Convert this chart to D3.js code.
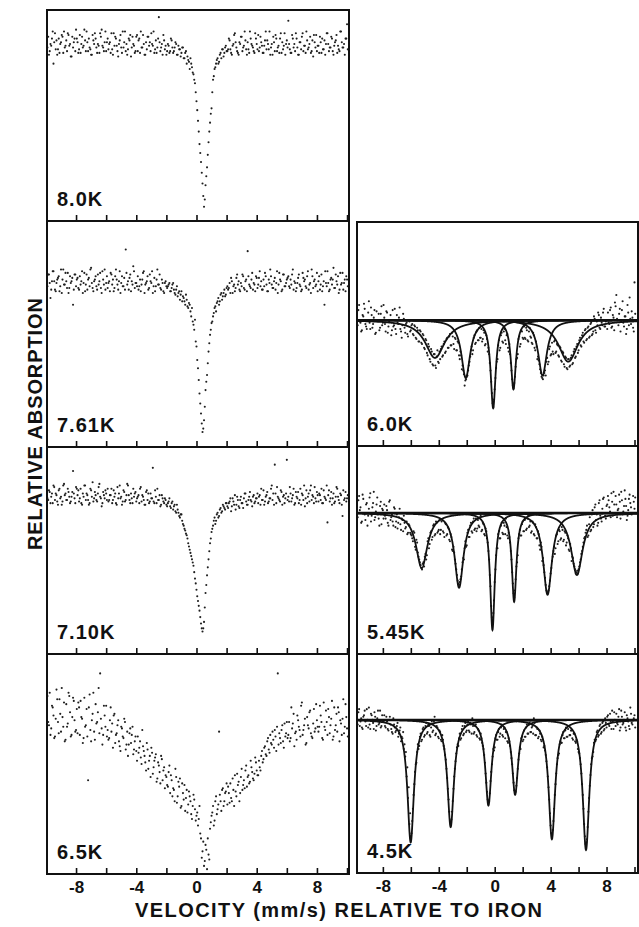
<!DOCTYPE html>
<html>
<head>
<meta charset="utf-8">
<script src="https://cdn.jsdelivr.net/npm/d3@7"></script>
<style>
  body { margin: 0; background: #fff; }
  text { font-family: "Liberation Sans", Arial, Helvetica, sans-serif; font-weight: bold; }
</style>
</head>
<body>
<div id="chart"></div>
<script>
const w = 639
const h = 927

// temperature of each spectrum (left column top to bottom, then right column)
const temps = ['8.0K', '7.61K', '7.10K', '6.5K', '6.0K', '5.45K', '4.5K']

// velocity channels of the two folded halves, mm/s
const velocityA = d3.range(200).map(i => Math.round((-9.9 + i * 0.1) * 100) / 100)
const velocityB = d3.range(200).map(i => Math.round((-9.85 + i * 0.1) * 100) / 100)

// relative absorption per channel (0 = baseline, larger = more absorption)
const abs80 = [
  3, 7, 1, -2, 12, -5, -1, 4, 6, 0, -3, -6, 2, 5, -4, 1, 8, 3, -2, -7,
  0, 4, 6, -3, 2, -1, -6, 5, 3, 7, -4, 1, -2, 6, 2, -5, -7, 3, 0, 5,
  -2, 1, 6, 4, -5, -3, 2, 8, -1, 3, -6, 0, 5, 7, -2, -4, 3, 1, 6, -3,
  5, -2, -6, 3, 1, 7, 4, -3, 0, -5, 2, 6, -1, 3, -14, 5, 1, -4, 4, 7,
  1, 6, -2, 3, 5, 0, 7, 2, 4, 6, 3, 9, 5, 8, 11, 9, 14, 18, 23, 33,
  44, 57, 67, 79, 92, 80, 70, 56, 45, 37, 21, 15, 12, 9, 11, 6, 4, 8, 3, 5,
  4, -1, 6, 2, -4, 0, 5, 7, 1, -3, 3, -6, 4, 0, 6, -2, 2, 5, -5, 1,
  -4, 3, 0, 6, 2, -6, -1, 4, 7, 1, -3, 5, -2, 3, 6, -5, 0, 2, 7, -1,
  -12, 4, 6, -2, 1, -5, 3, 7, 0, -3, 5, 2, -6, 4, 1, 6, -1, -4, 3, 5,
  2, -3, 6, 4, -1, 1, -5, 5, 3, -2, 7, 0, -4, 2, 5, -6, 3, 1, -2, -10
]
const abs80b = [
  -3, 5, 2, -6, 0, 4, 7, -2, 1, -4, 6, 3, -1, -5, 2, 8, -3, 0, 5, -2,
  6, -4, 1, 3, -7, 5, 0, -2, 4, 7, -1, -5, 3, 1, 6, -3, 2, 5, -6, 0,
  4, 0, -5, 7, 2, -2, 5, 1, -4, 6, 3, -6, 1, 4, -1, 8, -3, 2, 5, -4,
  -1, 6, 3, -4, 7, 0, -3, 2, 5, 1, -6, 4, 6, -2, 0, 3, 7, -1, 2, 5,
  2, 5, -1, 6, 3, 1, 7, 4, 8, 3, 9, 6, 12, 10, 15, 12, 17, 21, 28, 38,
  50, 62, 73, 86, 88, 75, 63, 50, 40, 28, 19, 14, 10, 12, 7, 9, 4, 6, 2, 5,
  -2, 4, 7, 1, -5, 3, 6, 0, -3, 5, 2, -1, 7, 4, -6, 1, 3, 6, -2, 4,
  5, -3, 2, 6, -1, 4, 1, -6, 3, 7, 0, -4, 5, 2, -2, 6, 4, -5, 1, 3,
  1, 6, -4, 3, 5, -2, 7, 0, 4, -5, 2, 6, -1, 3, -3, 5, 8, 0, -4, 2,
  6, 0, -2, 4, 7, -5, 1, 3, -3, 5, 2, -1, 6, 4, -6, 0, 3, 7, -2, 4
]
const abs761 = [
  4, -3, 11, 1, -5, 6, 2, -1, 7, -6, 0, 3, -4, 5, 8, -2, 1, 15, -3, 4,
  -1, 6, 3, -5, 2, 7, -3, 0, 4, -7, 5, 1, -2, 6, 3, -4, 8, 0, -6, 2,
  5, 1, -4, 3, 7, -2, 0, 6, -5, 2, 4, -1, -18, 3, 6, -3, 1, -8, 5, 2,
  -2, 4, 7, 0, -5, 3, 1, 6, -3, 2, 8, -1, 4, -6, 3, 5, 0, 7, 2, 4,
  4, 2, 7, 3, 6, 9, 4, 8, 12, 7, 10, 13, 9, 16, 14, 19, 17, 27, 24, 40,
  53, 68, 80, 91, 84, 66, 57, 43, 33, 26, 22, 17, 19, 13, 15, 9, 12, 8, 10, 5,
  6, 2, -1, 8, 3, 5, -3, 1, 7, 4, -2, 6, 0, -17, 3, 5, -4, 2, 7, -1,
  3, -5, 1, 6, 4, -2, 7, 0, -6, 3, 5, -1, 2, 8, -4, 1, 6, -3, 4, 0,
  -2, 5, 3, -6, 1, 7, 2, -3, 4, 6, -1, 0, 5, -5, 3, 8, -2, 1, 4, -4,
  1, 6, -3, 4, 15, 2, -5, 7, 0, 3, -7, 5, 1, -2, 6, 3, -4, 2, 7, 0
]
const abs761b = [
  -3, 2, 6, -5, 1, 7, 0, -2, 4, 8, -6, 3, 1, -4, 5, 2, -1, 6, -3, 0,
  5, -2, 1, 8, -4, 3, 6, -1, -6, 2, 7, 0, 4, -3, 1, 5, -5, 3, 6, -2,
  2, 7, -3, 0, 5, -6, 3, 1, 8, -2, 4, 6, -4, 1, -1, 7, 3, -5, 2, 4,
  6, 0, 3, -4, 8, 2, -2, 5, 1, -5, 4, 7, 0, 3, -3, 6, 2, 8, 1, 5,
  3, 7, 5, 2, 8, 6, 10, 7, 9, 13, 11, 15, 12, 17, 15, 22, 25, 30, 37, 48,
  60, 74, 86, 89, 76, 61, 50, 38, 30, 25, 20, 16, 14, 11, 13, 8, 10, 6, 9, 4,
  5, 8, 1, 4, 7, -1, 3, 6, 2, -3, 5, 1, 7, -2, 4, 0, 6, 3, -2, 5,
  -1, 4, 6, 0, -4, 3, 7, 2, -2, 5, 1, 6, -5, 3, 0, 7, -3, 4, 2, -1,
  4, 0, -3, 6, 2, 5, -1, 3, 7, -4, 1, 4, -2, 6, 2, -6, 5, 0, 3, 7,
  -2, 3, 7, 1, -5, 4, 2, 6, -1, 0, 5, -3, 3, 8, -4, 2, 6, 0, -2, 4
]
const abs710 = [
  3, -2, 6, 0, -5, 4, 1, 7, -3, 2, 5, -6, 0, 4, -1, 6, 2, -14, 3, -4,
  1, 5, -3, 7, 2, -5, 0, 4, 6, -2, -7, 3, 1, 5, -4, 2, 8, -1, 3, 0,
  -3, 4, 1, 6, -2, 0, 7, 3, -5, 2, 5, -1, 4, -6, 1, 6, 3, -3, 0, 5,
  2, 6, -4, 1, 4, 7, -2, 0, 5, 3, -16, 6, 2, -3, 4, 8, 1, 5, 3, 7,
  6, 3, 9, 5, 8, 11, 7, 12, 15, 13, 19, 22, 25, 28, 33, 37, 41, 45, 53, 60,
  67, 73, 81, 86, 80, 62, 51, 41, 31, 24, 20, 15, 17, 12, 14, 9, 11, 8, 10, 6,
  9, 5, 11, 3, 7, 10, 2, 8, 4, 6, 9, 0, 5, 7, 2, 4, 8, 1, 5, 3,
  6, 1, -3, 4, 7, 2, -1, 5, 3, -5, 0, -18, 6, 2, 4, -2, 7, 1, 3, -21,
  2, -4, 5, 1, 7, -1, 3, 6, -3, 0, 4, 8, -2, 2, 5, -5, 1, 6, 3, -1,
  5, 1, -3, 6, 2, 4, 18, -2, 3, 7, 0, 5, -4, 2, 6, 1, 14, 4, -1, 3
]
const abs710b = [
  4, -1, 2, 6, -4, 0, 5, -2, 3, 7, -5, 1, 4, -3, 2, 5, -1, 0, 6, -3,
  -2, 3, 6, 0, -5, 4, 1, 7, -3, 2, 5, -1, 4, 0, -6, 3, 6, 1, -2, 4,
  5, 1, -3, 4, 2, 6, -4, 0, 3, 7, -2, 5, 1, -5, 4, 0, 6, 2, -1, 3,
  1, -3, 5, 2, 7, -1, 4, 6, 0, 3, 5, -2, 6, 4, 1, 7, 3, 6, 4, 8,
  5, 8, 6, 10, 7, 12, 10, 14, 13, 17, 20, 23, 26, 31, 35, 39, 43, 49, 56, 64,
  70, 77, 84, 84, 71, 57, 46, 36, 28, 22, 17, 19, 13, 15, 10, 12, 7, 9, 6, 8,
  6, 3, 8, 5, 1, 7, 4, 9, 2, 6, 3, 0, 7, 4, -1, 5, 2, 6, 3, 0,
  2, 7, 4, -2, 5, 1, 6, 3, -3, 4, 7, 0, -4, 3, 5, -1, 2, 6, 0, 4,
  5, 0, 3, -3, 6, 2, -1, 4, 7, 1, -5, 3, 6, 0, -2, 4, 2, -4, 5, 1,
  0, 4, 6, -2, 3, -5, 1, 5, -1, 3, 6, 2, -3, 4, 0, 7, -2, 3, 5, 1
]
const abs65 = [
  -10, 8, 14, -4, 2, 15, -14, 6, -8, 12, 3, -6, 17, 9, -12, 0, 14, -9, 5, 11,
  13, -3, -7, 4, 16, 9, -2, 42, -11, 18, 1, 12, -5, 6, -15, -24, 10, 14, 2, -4,
  11, 16, -3, 7, 2, 19, 13, 5, 21, 9, 15, 4, 23, 12, 20, 10, 14, 26, 18, 24,
  15, 22, 28, 11, 24, 31, 19, 35, 27, 22, 38, 30, 26, 41, 33, 44, 29, 36, 47, 40,
  46, 33, 39, 52, 48, 35, 56, 43, 41, 58, 50, 45, 53, 62, 49, 55, 66, 51, 60, 64,
  70, 58, 78, 86, 95, 82, 97, 88, 72, 64, 58, 67, 52, 60, 12, 55, 48, 58, 50, 44,
  46, 56, 53, 41, 58, 49, 38, 43, 50, 35, 45, 47, 33, 40, 44, 30, 37, 42, 28, 36,
  39, 34, 27, 31, 22, 26, 18, 23, 14, 20, 17, 11, 24, -24, 13, 19, 8, 22, 15, 6,
  14, 18, -3, 7, 21, 12, 2, 9, 15, -6, 11, 4, 19, 8, 0, 13, 16, -2, 10, 5,
  12, -4, 6, 17, 9, -1, 14, 3, 8, -7, 15, 11, 1, -3, 18, 7, 4, 13, -5, 10
]
const abs65b = [
  6, -12, 10, -3, 16, 4, -8, 13, 1, -15, 9, 18, -5, 7, -10, 15, 3, -7, 12, -2,
  -6, 14, 3, 19, -9, 8, 15, -3, 11, 5, -12, 17, 7, 0, 13, 4, 20, -4, 9, 15,
  17, 5, 12, 22, 1, 14, 8, 18, 24, 10, 16, 6, 20, 27, 13, 19, 9, 23, 15, 30,
  25, 18, 32, 21, 27, 36, 23, 30, 40, 25, 34, 28, 43, 31, 37, 27, 42, 34, 39, 45,
  37, 50, 42, 47, 55, 40, 52, 46, 59, 44, 54, 61, 48, 57, 52, 63, 58, 54, 67, 62,
  66, 75, 90, 80, 92, 85, 78, 91, 68, 62, 70, 55, 63, 57, 51, 61, 47, 55, 49, 57,
  50, 44, 55, 48, 39, 52, 45, 55, 40, 48, 42, 36, 46, 39, 43, 34, 41, 38, 31, 39,
  30, 36, 24, 29, 21, 27, 16, 25, 19, 12, 22, 15, 9, 20, 16, 11, 18, 7, 13, 16,
  6, 16, 10, 1, 13, 17, 5, 11, -4, 14, 8, 20, 3, 10, -1, 15, 7, 12, -5, 9,
  9, 2, 16, -6, 11, 6, -2, 13, 4, 17, -3, 8, 12, 0, 5, 14, -8, 9, 3, 15
]
const abs60 = [
  -6, 4, -12, 2, 8, -3, -9, 5, 0, -15, 7, -4, 3, -8, 10, 1, -5, 6, -11, 2,
  -2, 9, -6, 5, 0, 12, -8, 4, 7, -4, 3, -10, 9, 4, -1, 10, 2, 13, 1, 8,
  3, 12, 5, 15, 8, 17, 9, 19, 12, 23, 16, 28, 21, 33, 25, 36, 27, 38, 24, 34,
  31, 21, 28, 17, 25, 14, 22, 11, 20, 13, 23, 15, 24, 18, 31, 28, 36, 43, 48, 45,
  40, 33, 24, 27, 14, 19, 9, 16, 6, 14, 17, 8, 20, 12, 25, 27, 40, 58, 69, 55,
  38, 31, 16, 22, 10, 18, 7, 19, 11, 25, 27, 40, 52, 50, 37, 30, 15, 21, 8, 14,
  5, 15, 8, 17, 6, 14, 19, 12, 24, 21, 29, 35, 42, 46, 44, 40, 33, 35, 23, 28,
  18, 27, 16, 25, 20, 29, 22, 33, 26, 37, 30, 39, 31, 36, 28, 34, 23, 29, 19, 24,
  14, 21, 10, 18, 7, 15, 5, 13, 2, 11, -3, 8, 1, -6, 6, -2, 4, -9, 5, 0,
  -6, 3, -10, 5, -2, -14, -20, 0, -5, 9, -8, 2, -3, 11, -12, 4, -1, -7, 6, -30
]
const abs60b = [
  5, -8, 1, 9, -4, -13, 3, 7, -6, 2, -10, 6, -2, 11, -7, 0, 8, -5, 4, -12,
  3, -7, 10, 1, -4, 8, 5, -9, 11, 2, -2, 7, 14, -5, 6, 3, 11, 0, 9, 4,
  11, 4, 14, 6, 17, 8, 18, 11, 22, 15, 26, 19, 31, 23, 35, 27, 36, 29, 33, 25,
  23, 29, 19, 26, 15, 22, 13, 20, 10, 19, 14, 24, 17, 28, 25, 39, 40, 52, 47, 44,
  36, 29, 21, 24, 12, 18, 8, 16, 14, 7, 15, 10, 19, 15, 22, 34, 49, 66, 63, 46,
  33, 20, 24, 12, 17, 9, 16, 12, 22, 19, 34, 47, 54, 45, 31, 27, 13, 19, 9, 15,
  14, 6, 16, 9, 13, 18, 10, 22, 17, 31, 32, 39, 45, 47, 42, 44, 30, 33, 21, 27,
  25, 17, 26, 19, 28, 21, 32, 25, 35, 29, 38, 31, 37, 30, 35, 25, 30, 21, 26, 16,
  20, 12, 17, 8, 16, 6, 14, 3, 12, 9, -1, 10, 4, -4, 7, 2, -6, 5, 1, 7,
  2, -8, 6, -4, 8, -11, -1, 4, -9, 1, -15, 5, -3, 7, -6, -18, 3, -2, 9, -5
]
const abs545 = [
  -8, 3, -12, -4, 6, -10, 1, -6, 9, -3, -14, 2, -7, 5, -1, -11, 4, -5, 8, -2,
  -6, 4, -2, 9, -9, 3, 6, -4, 10, 1, 7, -3, 12, 5, 2, 11, 6, 14, 9, 15,
  18, 13, 24, 19, 28, 33, 37, 40, 35, 31, 33, 20, 25, 14, 19, 9, 16, 6, 14, 12,
  15, 6, 13, 17, 8, 15, 11, 20, 17, 27, 28, 36, 44, 50, 49, 45, 35, 33, 20, 23,
  12, 17, 7, 14, 4, 11, 13, 5, 10, 2, 12, 8, 16, 13, 21, 33, 52, 74, 71, 49,
  30, 25, 13, 18, 7, 15, 9, 4, 16, 14, 21, 33, 50, 60, 47, 35, 18, 12, 16, 6,
  13, 4, 11, 2, 9, 14, 6, 15, 8, 18, 13, 23, 21, 34, 37, 46, 55, 57, 52, 43,
  34, 27, 29, 16, 22, 12, 19, 10, 20, 13, 23, 16, 26, 22, 34, 32, 38, 43, 41, 40,
  35, 29, 24, 18, 14, 9, 16, 3, 12, -2, 8, -6, 1, 7, -9, 4, -3, -11, 2, -5,
  -12, -4, 3, -8, -15, 0, -6, -2, -13, 4, -9, -1, -16, -5, 2, -10, -7, 1, -12, -3
]
const abs545b = [
  4, -9, -2, 7, -13, 0, 5, -7, 2, -11, 6, -4, -15, 3, -6, 1, 9, -8, -3, 4,
  2, -5, 7, -8, 5, 1, 9, -3, 6, 11, 3, 8, 4, 13, 7, 10, 15, 8, 14, 16,
  20, 14, 26, 21, 31, 35, 39, 36, 38, 29, 30, 18, 22, 13, 17, 8, 15, 7, 13, 5,
  12, 5, 14, 7, 16, 10, 19, 15, 26, 24, 33, 40, 48, 51, 47, 40, 32, 25, 24, 14,
  17, 9, 13, 6, 12, 4, 11, 9, 3, 13, 7, 15, 11, 18, 27, 44, 66, 76, 62, 40,
  25, 15, 18, 9, 14, 7, 15, 10, 18, 17, 27, 42, 57, 55, 38, 30, 15, 16, 8, 13,
  5, 12, 4, 10, 6, 13, 7, 16, 10, 18, 15, 26, 24, 32, 42, 51, 56, 55, 48, 39,
  31, 24, 25, 15, 20, 13, 18, 12, 19, 14, 21, 18, 27, 25, 31, 36, 40, 42, 43, 38,
  33, 27, 21, 17, 12, 17, 8, 13, 1, 10, -4, 5, 9, -7, 2, 6, -10, 0, 4, -6,
  -9, -1, -14, 2, -6, -12, 3, -3, -8, -15, 1, -5, -10, 5, -2, -13, -4, 0, -8, -11
]
const abs45 = [
  -4, 3, -7, 1, 5, -2, -6, 4, 0, -8, 6, -3, 2, -5, 7, -1, 3, -6, 4, 1,
  -3, 5, 1, 7, -2, 6, 9, 3, 8, 4, 11, 7, 14, 12, 19, 24, 37, 51, 68, 76,
  66, 49, 34, 28, 16, 17, 9, 13, 5, 10, 2, 8, 4, 11, 1, 7, -2, 9, 5, 12,
  8, 14, 13, 19, 26, 38, 52, 66, 65, 53, 37, 27, 18, 17, 9, 12, 4, 9, 2, 7,
  1, 8, 3, -1, 9, 4, 10, 6, 12, 9, 15, 19, 28, 41, 52, 53, 40, 29, 19, 18,
  10, 13, 6, 9, 3, 11, 5, 8, 14, 12, 17, 25, 35, 46, 47, 38, 26, 18, 12, 14,
  7, 11, 3, 9, 2, 8, 4, -1, 10, 5, 12, 7, 13, 11, 18, 20, 27, 37, 52, 69,
  75, 66, 49, 35, 25, 22, 14, 15, 8, 12, 5, 11, 4, 10, 7, 13, 9, 15, 14, 21,
  25, 35, 49, 68, 81, 78, 60, 43, 29, 24, 15, 14, 8, 11, 4, 9, 2, 7, -1, 5,
  -3, 4, 1, -6, 6, 0, -4, 3, -7, 5, -2, 2, -5, 7, -1, 4, -8, 2, 0, -3
]
const abs45b = [
  2, -5, 4, -1, 6, -3, 1, -7, 5, 3, -4, 0, 6, -2, 4, -6, 2, 5, -3, 1,
  4, -2, 6, 0, 3, 8, -1, 5, 7, 2, 9, 5, 11, 8, 16, 21, 31, 44, 61, 74,
  58, 42, 29, 21, 19, 11, 14, 6, 11, 4, 9, 3, 10, 5, 8, 1, 10, 4, 11, 7,
  13, 10, 17, 23, 32, 45, 60, 68, 60, 45, 32, 22, 16, 12, 13, 6, 10, 4, 8, 3,
  7, 2, 9, 4, 8, 3, 11, 7, 13, 12, 17, 23, 35, 47, 54, 48, 34, 24, 20, 12,
  13, 8, 11, 5, 10, 6, 12, 8, 15, 14, 21, 29, 41, 47, 43, 32, 22, 19, 11, 13,
  11, 5, 9, 3, 8, 5, 9, 2, 10, 6, 11, 9, 14, 13, 17, 23, 31, 44, 61, 74,
  72, 58, 42, 29, 23, 16, 15, 10, 12, 7, 11, 6, 10, 7, 12, 9, 14, 13, 19, 22,
  29, 42, 58, 76, 80, 70, 51, 36, 25, 21, 13, 13, 7, 10, 3, 8, 1, 6, 2, -2,
  3, -4, 6, 1, -5, 4, 2, -2, 7, -6, 3, 0, 5, -3, 1, 6, -4, 3, -1, 5
]

// fitted sextet lines: [position mm/s, depth, half width mm/s]
const fit60 = [[-4.27, 30, 0.85], [-2.07, 46, 0.38], [-0.11, 70, 0.22], [1.34, 55, 0.22], [3.42, 44, 0.38], [5.26, 33, 0.85]]
const fit545 = [[-5.22, 39, 0.5], [-2.55, 53, 0.38], [-0.16, 83, 0.2], [1.39, 63, 0.2], [3.78, 58, 0.38], [5.88, 44, 0.5]]
const fit45 = [[-6.01, 80, 0.28], [-3.15, 70, 0.28], [-0.45, 56, 0.26], [1.46, 49, 0.26], [4.09, 78, 0.28], [6.53, 85, 0.28]]

const scansA = [abs80, abs761, abs710, abs65, abs60, abs545, abs45]
const scansB = [abs80b, abs761b, abs710b, abs65b, abs60b, abs545b, abs45b]
const fits = [null, null, null, null, fit60, fit545, fit45]
// absorption value at the top edge of each panel (bottom edge = 100)
const yMin = [-18, -35, -29, -36, -78, -47.5, -43]
const xTicks = [-8, -6, -4, -2, 0, 2, 4, 6, 8, 10]

// layout: columns [left, right, vmin, vmax], panels [column, top, bottom]
const cols = [[47, 349, -9.93, 10.13], [357, 638, -9.85, 10.25]]
const boxes = [[0, 10, 221], [0, 221, 447], [0, 447, 654], [0, 654, 874], [1, 222, 446], [1, 446, 654], [1, 654, 873]]

const lorentz = (v, line) => line[1] / (1 + Math.pow((v - line[0]) / line[2], 2))

var svg = d3.select('#chart')
  .append('svg')
  .attr('width', w)
  .attr('height', h)

svg.append('rect').attr('width', w).attr('height', h).attr('fill', '#fff')

scansA.forEach(function (valsA, k) {
  const [ci, top, bottom] = boxes[k]
  const [x0, x1, v0, v1] = cols[ci]
  const x = d3.scaleLinear().domain([v0, v1]).range([x0, x1])
  const y = d3.scaleLinear().domain([yMin[k], 100]).range([top, bottom])

  const points = valsA.map((d, i) => [velocityA[i], d])
    .concat(scansB[k].map((d, i) => [velocityB[i], d]))

  const g = svg.append('g')
  g.append('clipPath').attr('id', 'clip' + k)
    .append('rect')
    .attr('x', x0).attr('y', top)
    .attr('width', x1 - x0).attr('height', bottom - top)

  const plot = g.append('g').attr('clip-path', 'url(#clip' + k + ')')

  plot.selectAll('circle')
    .data(points)
    .enter().append('circle')
    .attr('cx', d => x(d[0]))
    .attr('cy', d => y(d[1]))
    .attr('r', 1.05)
    .attr('fill', '#1e1e1e')

  if (fits[k]) {
    plot.append('line')
      .attr('x1', x0).attr('x2', x1)
      .attr('y1', y(0)).attr('y2', y(0))
      .attr('stroke', '#111')
      .attr('stroke-width', 2.4)

    const vs = d3.range(v0, v1, 0.01)
    fits[k].forEach(function (line) {
      plot.append('path')
        .datum(vs)
        .attr('fill', 'none')
        .attr('stroke', '#111')
        .attr('stroke-width', 1.8)
        .attr('d', d3.line().x(v => x(v)).y(v => y(lorentz(v, line))))
    })
  }

  const isBottom = k === 3 || k === 6
  const axis = g.append('g')
    .attr('transform', 'translate(0,' + bottom + ')')
    .call(d3.axisBottom(x)
      .tickValues(xTicks)
      .tickSizeInner(-6)
      .tickSizeOuter(0)
      .tickPadding(7)
      .tickFormat(d => (isBottom && d % 4 === 0 && d <= 8) ? String(d) : ''))
  axis.select('.domain').remove()
  axis.attr('color', '#111')
  axis.selectAll('line').attr('stroke-width', 1.6)
  axis.selectAll('text')
    .style('font-family', '"Liberation Sans", Arial, sans-serif')
    .style('font-weight', 'bold')
    .style('font-size', '17px')

  g.append('rect')
    .attr('x', x0).attr('y', top)
    .attr('width', x1 - x0).attr('height', bottom - top)
    .attr('fill', 'none')
    .attr('stroke', '#111')
    .attr('stroke-width', 2)

  g.append('text')
    .attr('x', x0 + 10)
    .attr('y', bottom - 15)
    .style('font-size', '20px')
    .style('letter-spacing', '1px')
    .attr('fill', '#111')
    .text(temps[k])
})

svg.append('text')
  .attr('x', 135)
  .attr('y', 917)
  .attr('textLength', 407)
  .attr('lengthAdjust', 'spacing')
  .style('font-size', '20px')
  .attr('fill', '#111')
  .text('VELOCITY (mm/s) RELATIVE TO IRON')

svg.append('text')
  .attr('transform', 'translate(42,424) rotate(-90)')
  .attr('text-anchor', 'middle')
  .attr('textLength', 252)
  .attr('lengthAdjust', 'spacing')
  .style('font-size', '20px')
  .attr('fill', '#111')
  .text('RELATIVE ABSORPTION')
</script>
</body>
</html>
